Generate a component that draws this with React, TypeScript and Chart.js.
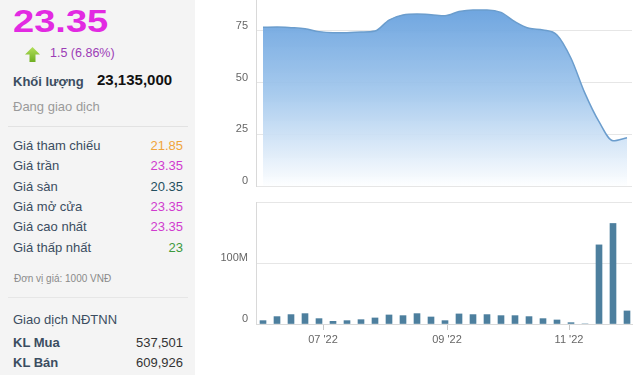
import React, { useEffect, useRef } from "react";
import { Chart, registerables } from "chart.js";

Chart.register(...registerables);

// ---------- data ----------
const weekDates = [
  "2022-06-01", "2022-06-08", "2022-06-15", "2022-06-22", "2022-06-29",
  "2022-07-06", "2022-07-13", "2022-07-20", "2022-07-27",
  "2022-08-03", "2022-08-10", "2022-08-17", "2022-08-24", "2022-08-31",
  "2022-09-07", "2022-09-14", "2022-09-21", "2022-09-28",
  "2022-10-05", "2022-10-12", "2022-10-19", "2022-10-26",
  "2022-11-02", "2022-11-09", "2022-11-16", "2022-11-23", "2022-11-30",
];
const priceValues = [
  76.8, 76.9, 76.6, 76.1, 74.7, 74.2, 74.2, 74.5, 75.0, 80.3, 82.7, 83.2, 82.9, 82.4,
  84.4, 85.2, 85.2, 84.0, 79.5, 76.3, 75.5, 73.1, 61.8, 44.8, 31.1, 21.85, 23.35,
];
// volume in millions of shares
const volumeValues = [
  5.5, 12.1, 15.4, 17.0, 8.8, 4.4, 5.5, 7.1, 9.9, 14.8, 13.7, 17.0, 11.5, 5.5,
  16.5, 15.4, 15.4, 13.7, 13.7, 12.1, 8.8, 6.6, 2.2, 0, 129.7, 164.8, 21.4,
];
const monthTickDates = ["2022-07-01", "2022-09-01", "2022-11-01"];
const monthTickLabels = ["07 '22", "09 '22", "11 '22"];
const priceTicks = [0, 25, 50, 75];
const priceMax = 90;
const volumeTicks = [0, 100, 200];
const volumeTickLabels = ["0", "100M", ""];

const infoRows = [
  { label: "Giá tham chiếu", value: "21.85", color: "#f0a43a" },
  { label: "Giá trần", value: "23.35", color: "#d03ccf" },
  { label: "Giá sàn", value: "20.35", color: "#24505f" },
  { label: "Giá mở cửa", value: "23.35", color: "#d03ccf" },
  { label: "Giá cao nhất", value: "23.35", color: "#d03ccf" },
  { label: "Giá thấp nhất", value: "23", color: "#3e9a3e" },
];

// ---------- helpers ----------
const BASE = Date.UTC(2022, 5, 1);
const dayOf = (s: string) => {
  const [y, m, d] = s.split("-").map(Number);
  return (Date.UTC(y, m - 1, d) - BASE) / 86400000;
};
const days = weekDates.map(dayOf);
const xMin = days[0] - 3.5;
const xMax = days[days.length - 1] + 2.5;
const monthTickDays = monthTickDates.map(dayOf);

const FONT = "'Liberation Sans', Arial, sans-serif";
const GRID = "#e6e6e6";
const AXIS = "#d9d9d9";

function zeroPad(s: any) {
  s.paddingTop = 0;
  s.paddingBottom = 0;
  s.paddingLeft = 0;
  s.paddingRight = 0;
}

function PriceChart() {
  const ref = useRef<HTMLCanvasElement>(null);
  useEffect(() => {
    const chart = new Chart(ref.current!, {
      type: "line",
      data: {
        datasets: [
          {
            data: days.map((d, i) => ({ x: d, y: priceValues[i] })),
            fill: "origin",
            borderColor: "#6b9dcd",
            borderWidth: 1.5,
            pointRadius: 0,
            cubicInterpolationMode: "monotone",
            backgroundColor: (ctx: any) => {
              const { chart } = ctx;
              const area = chart.chartArea;
              if (!area) return "rgba(110,165,220,0.8)";
              const g = chart.ctx.createLinearGradient(0, area.top, 0, area.bottom);
              g.addColorStop(0, "rgba(96,156,220,0.95)");
              g.addColorStop(0.5, "rgba(160,198,236,0.92)");
              g.addColorStop(1, "rgba(253,254,255,0.9)");
              return g;
            },
          } as any,
        ],
      },
      options: {
        responsive: false,
        animation: false,
        devicePixelRatio: 1,
        layout: { padding: { top: 0, right: 8, bottom: 9, left: 0 } },
        plugins: { legend: { display: false }, tooltip: { enabled: false } },
        scales: {
          x: { type: "linear", min: xMin, max: xMax, display: false, offset: false },
          y: {
            min: 0,
            max: priceMax,
            afterBuildTicks: (s: any) => {
              s.ticks = priceTicks.map((v) => ({ value: v }));
            },
            afterFit: (s: any) => {
              s.width = 56;
              zeroPad(s);
            },
            grid: { color: GRID, drawTicks: false },
            border: { color: AXIS },
            ticks: {
              padding: 8,
              labelOffset: -5,
              color: "#666",
              font: { family: FONT, size: 11 },
            },
          },
        },
      } as any,
    });
    return () => chart.destroy();
  }, []);
  return (
    <canvas
      ref={ref}
      width={440}
      height={195}
      style={{ position: "absolute", left: 200, top: 0, width: 440, height: 195 }}
    />
  );
}

function VolumeChart() {
  const ref = useRef<HTMLCanvasElement>(null);
  useEffect(() => {
    const chart = new Chart(ref.current!, {
      type: "bar",
      data: {
        datasets: [
          {
            data: days.map((d, i) => ({ x: d, y: volumeValues[i] })),
            backgroundColor: "#4d7f9e",
            barThickness: 6,
          } as any,
        ],
      },
      options: {
        responsive: false,
        animation: false,
        devicePixelRatio: 1,
        layout: { padding: { top: 7, right: 8, bottom: 0, left: 0 } },
        plugins: { legend: { display: false }, tooltip: { enabled: false } },
        scales: {
          x: {
            type: "linear",
            min: xMin,
            max: xMax,
            offset: false,
            afterBuildTicks: (s: any) => {
              s.ticks = monthTickDays.map((v) => ({ value: v }));
            },
            afterFit: (s: any) => {
              s.height = 51;
              zeroPad(s);
            },
            grid: {
              drawOnChartArea: false,
              drawTicks: true,
              tickLength: 6,
              color: "#c8c8c8",
              offset: false,
            },
            border: { color: AXIS },
            ticks: {
              autoSkip: false,
              maxRotation: 0,
              padding: 3,
              color: "#666",
              font: { family: FONT, size: 11 },
              callback: (v: any) => {
                const i = monthTickDays.indexOf(Number(v));
                return i >= 0 ? monthTickLabels[i] : "";
              },
            },
          },
          y: {
            min: 0,
            max: volumeTicks[volumeTicks.length - 1],
            afterBuildTicks: (s: any) => {
              s.ticks = volumeTicks.map((v) => ({ value: v }));
            },
            afterFit: (s: any) => {
              s.width = 56;
              zeroPad(s);
            },
            grid: { color: GRID, drawTicks: false },
            border: { color: AXIS },
            ticks: {
              padding: 8,
              labelOffset: -5,
              color: "#666",
              font: { family: FONT, size: 11 },
              callback: (v: any) => {
                const i = volumeTicks.indexOf(Number(v));
                return i >= 0 ? volumeTickLabels[i] : "";
              },
            },
          },
        },
      } as any,
    });
    return () => chart.destroy();
  }, []);
  return (
    <canvas
      ref={ref}
      width={440}
      height={180}
      style={{ position: "absolute", left: 200, top: 195, width: 440, height: 180 }}
    />
  );
}

const LABEL = "#3b4d61";

function T(props: {
  top: number;
  left?: number;
  right?: number;
  size: number;
  color: string;
  bold?: boolean;
  children: React.ReactNode;
  style?: React.CSSProperties;
}) {
  return (
    <div
      style={{
        position: "absolute",
        top: props.top,
        left: props.left,
        right: props.right,
        fontSize: props.size,
        lineHeight: `${props.size}px`,
        color: props.color,
        fontWeight: props.bold ? "bold" : "normal",
        whiteSpace: "nowrap",
        ...(props.style || {}),
      }}
    >
      {props.children}
    </div>
  );
}

function InfoPanel() {
  const rowTops = [139, 159, 180, 200, 220, 241];
  return (
    <div
      style={{
        position: "absolute",
        left: 0,
        top: 0,
        width: 195,
        height: 375,
        background: "#f4f4f4",
        fontFamily: FONT,
      }}
    >
      <T top={5} left={13} size={32} color="#e22ae2" bold style={{ transform: "scaleX(1.19)", transformOrigin: "left top" }}>
        23.35
      </T>
      <svg style={{ position: "absolute", left: 24, top: 46 }} width={17} height={17} viewBox="0 0 17 17">
        <defs>
          <linearGradient id="ga" x1="0" y1="0" x2="0" y2="1">
            <stop offset="0" stopColor="#b2e05a" />
            <stop offset="1" stopColor="#6fae22" />
          </linearGradient>
        </defs>
        <polygon points="8.5,1 16,8.5 11.5,8.5 11.5,16 5.5,16 5.5,8.5 1,8.5" fill="url(#ga)" />
      </svg>
      <T top={47} left={50} size={12.5} color="#9c3cb6">
        1.5 (6.86%)
      </T>
      <T top={75} left={13} size={13} color={LABEL} bold>
        Khối lượng
      </T>
      <T top={72} left={97} size={15} color="#111" bold>
        23,135,000
      </T>
      <T top={100} left={13} size={13} color="#9a9a9a">
        Đang giao dịch
      </T>
      <div style={{ position: "absolute", left: 8, width: 180, top: 126, height: 1, background: "#e2e2e2" }} />
      {infoRows.map((r, i) => (
        <React.Fragment key={r.label}>
          <T top={rowTops[i]} left={13} size={13} color={LABEL}>
            {r.label}
          </T>
          <T top={rowTops[i]} right={12} size={13} color={r.color}>
            {r.value}
          </T>
        </React.Fragment>
      ))}
      <T top={274} left={14} size={10} color="#8a8a8a">
        Đơn vị giá: 1000 VNĐ
      </T>
      <div style={{ position: "absolute", left: 8, width: 180, top: 297, height: 1, background: "#e6e6e6" }} />
      <T top={313} left={13} size={13} color={LABEL}>
        Giao dịch NĐTNN
      </T>
      <T top={336} left={13} size={13} color={LABEL} bold>
        KL Mua
      </T>
      <T top={336} right={12} size={13} color="#333">
        537,501
      </T>
      <T top={356} left={13} size={13} color={LABEL} bold>
        KL Bán
      </T>
      <T top={356} right={12} size={13} color="#333">
        609,926
      </T>
    </div>
  );
}

export default function App() {
  return (
    <div
      style={{
        position: "absolute",
        left: 0,
        top: 0,
        width: 640,
        height: 375,
        overflow: "hidden",
        background: "#fff",
        fontFamily: FONT,
      }}
    >
      <InfoPanel />
      <PriceChart />
      <VolumeChart />
    </div>
  );
}
